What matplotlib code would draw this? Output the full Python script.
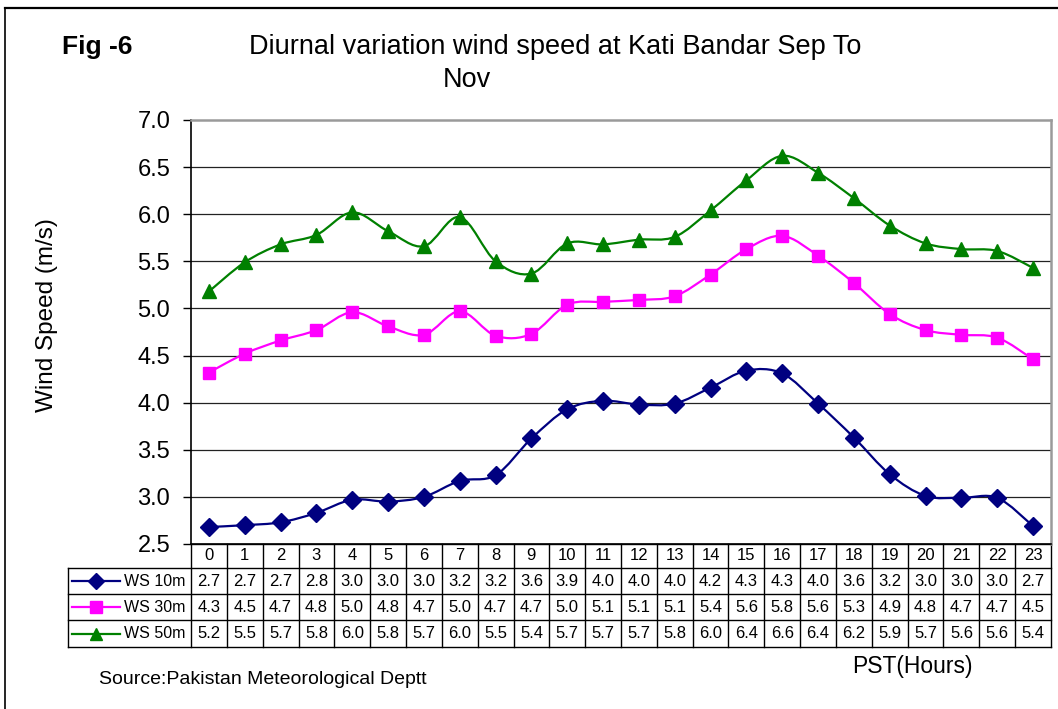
import matplotlib
matplotlib.use("Agg")
import matplotlib.pyplot as plt
import matplotlib.transforms as mtransforms
from matplotlib.path import Path
from matplotlib.patches import PathPatch
import numpy as np

plt.rcParams["font.family"] = ["Liberation Sans", "DejaVu Sans"]

hours = list(range(24))
ws_10m = [2.68, 2.70, 2.73, 2.83, 2.97, 2.95, 3.00, 3.17, 3.23, 3.62, 3.93, 4.02,
          3.98, 3.99, 4.16, 4.34, 4.31, 3.99, 3.63, 3.24, 3.01, 2.99, 2.99, 2.69]
ws_30m = [4.32, 4.52, 4.66, 4.77, 4.96, 4.81, 4.72, 4.97, 4.71, 4.73, 5.04, 5.07,
          5.09, 5.13, 5.36, 5.63, 5.77, 5.56, 5.27, 4.94, 4.77, 4.72, 4.69, 4.46]
ws_50m = [5.18, 5.49, 5.68, 5.78, 6.02, 5.82, 5.66, 5.97, 5.50, 5.37, 5.69, 5.68,
          5.73, 5.76, 6.04, 6.36, 6.62, 6.44, 6.17, 5.88, 5.69, 5.63, 5.61, 5.43]
series_names = ["WS 10m", "WS 30m", "WS 50m"]
series_colors = ["#000080", "#FF00FF", "#008000"]
series_markers = ["D", "s", "^"]
yticks = [2.5, 3.0, 3.5, 4.0, 4.5, 5.0, 5.5, 6.0, 6.5, 7.0]

W, H = 1058, 709


def px_box(left, top, right, bottom):
    return [left / W, 1 - bottom / H, (right - left) / W, (bottom - top) / H]


def smooth_path(xs, ys):
    # Excel-style smoothed line (Catmull-Rom as cubic Bezier)
    pts = np.column_stack([xs, ys]).astype(float)
    n = len(pts)
    verts = [pts[0]]
    codes = [Path.MOVETO]
    for i in range(n - 1):
        p0 = pts[max(i - 1, 0)]
        p1 = pts[i]
        p2 = pts[i + 1]
        p3 = pts[min(i + 2, n - 1)]
        c1 = p1 + (p2 - p0) / 6.0
        c2 = p2 - (p3 - p1) / 6.0
        verts += [c1, c2, p2]
        codes += [Path.CURVE4] * 3
    return Path(verts, codes)


fig = plt.figure(figsize=(W / 100, H / 100), dpi=100)

# outer frame (top and left edges visible)
fig.add_artist(plt.Line2D([5 / W, 1.01], [1 - 7.5 / H] * 2, color="black", lw=1.6,
                          transform=fig.transFigure))
fig.add_artist(plt.Line2D([5 / W] * 2, [1 - 7.5 / H, -0.01], color="black", lw=1.2,
                          transform=fig.transFigure))

ax = fig.add_axes(px_box(191, 120, 1051, 544))
ax.set_xlim(-0.5, 23.5)
ax.set_ylim(2.5, 7.0)

for y in yticks[1:-1]:
    ax.axhline(y, color="#222222", lw=0.9, zorder=1)

for vals, col, mk in zip([ws_10m, ws_30m, ws_50m], series_colors, series_markers):
    ax.add_patch(PathPatch(smooth_path(hours, vals), fill=False, edgecolor=col,
                           lw=1.6, zorder=3))
    ax.plot(hours, vals, linestyle="none", marker=mk, color=col,
            ms=10 if mk == "^" else 9, zorder=4)

ax.set_yticks(yticks)
ax.set_yticklabels([f"{v:.1f}" for v in yticks], fontsize=17)
ax.tick_params(axis="y", direction="out", length=6, width=1, pad=9)
ax.set_xticks(np.arange(-0.5, 24, 1))
ax.set_xticklabels([])
ax.tick_params(axis="x", direction="out", length=0)
for side in ["top", "right"]:
    ax.spines[side].set_color("#9a9a9a")
    ax.spines[side].set_linewidth(1.8)
ax.spines["left"].set_color("black")
ax.spines["left"].set_linewidth(1.2)
ax.spines["bottom"].set_color("black")
ax.spines["bottom"].set_linewidth(1.2)

fig.text(47 / W, 1 - 315 / H, "Wind Speed (m/s)", fontsize=17.5, rotation=90,
         ha="center", va="center")

# data table under the plot
tr = mtransforms.blended_transform_factory(ax.transData, ax.transAxes)
ph = 544 - 120
row_edges = [0, -24 / ph, -50 / ph, -76 / ph, -103 / ph]
x_left = -0.5 - 123 / (860 / 24)
line_kw = dict(color="black", lw=1.0, transform=tr, clip_on=False)

for k, y in enumerate(row_edges):
    x0 = -0.5 if k == 0 else x_left
    ax.add_line(plt.Line2D([x0, 23.5], [y, y], **line_kw))
for e in np.arange(-0.5, 24, 1):
    ax.add_line(plt.Line2D([e, e], [row_edges[0], row_edges[-1]], **line_kw))
ax.add_line(plt.Line2D([x_left, x_left], [row_edges[1], row_edges[-1]], **line_kw))

for h in hours:
    ax.text(h, (row_edges[0] + row_edges[1]) / 2, str(h), transform=tr,
            ha="center", va="center", fontsize=12)

for r, (vals, name, col, mk) in enumerate(zip([ws_10m, ws_30m, ws_50m], series_names,
                                              series_colors, series_markers)):
    yc = (row_edges[r + 1] + row_edges[r + 2]) / 2
    for h, v in zip(hours, vals):
        ax.text(h, yc, f"{v:.1f}", transform=tr, ha="center", va="center", fontsize=12)
    lx = x_left + 4 / (860 / 24)
    rx = x_left + 52 / (860 / 24)
    ax.add_line(plt.Line2D([lx, rx], [yc, yc], color=col, lw=1.6, transform=tr,
                           clip_on=False))
    ax.add_line(plt.Line2D([(lx + rx) / 2], [yc], color=col, marker=mk,
                           ms=9 if mk == "^" else 8, linestyle="none",
                           transform=tr, clip_on=False))
    ax.text(x_left + 56 / (860 / 24), yc, name, transform=tr, ha="left",
            va="center", fontsize=11.5)

# titles and notes
fig.text(62 / W, 1 - 47 / H, "Fig -6", fontsize=19, fontweight="bold",
         ha="left", va="center")
fig.text(555 / W, 1 - 47 / H, "Diurnal variation wind speed at Kati Bandar Sep To",
         fontsize=19.5, ha="center", va="center")
fig.text(467 / W, 1 - 80 / H, "Nov", fontsize=19.5, ha="center", va="center")
fig.text(912 / W, 1 - 667 / H, "PST(Hours)", fontsize=16.5, ha="center", va="center")
fig.text(99 / W, 1 - 679 / H, "Source:Pakistan Meteorological Deptt", fontsize=14,
         ha="left", va="center")

fig.savefig("out.png", dpi=100)
